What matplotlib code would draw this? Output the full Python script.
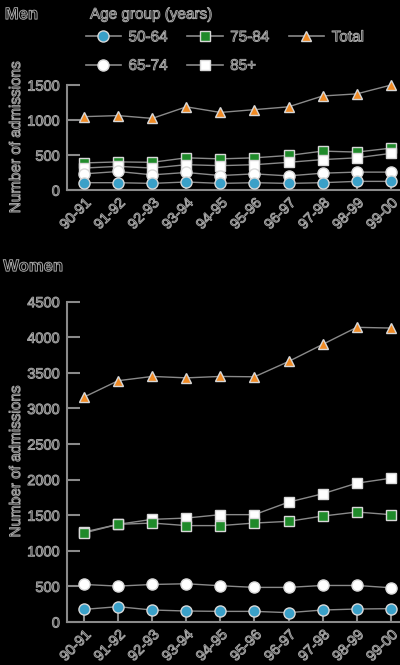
import matplotlib
matplotlib.use("Agg")
import matplotlib.pyplot as plt
import matplotlib.patheffects as pe
from matplotlib.lines import Line2D

years = ["90-91", "91-92", "92-93", "93-94", "94-95", "95-96", "96-97", "97-98", "98-99", "99-00"]

men_50_64 = [107, 107, 97, 117, 97, 107, 97, 107, 126, 126]
men_65_74 = [233, 267, 219, 253, 209, 233, 204, 243, 258, 258]
men_75_84 = [389, 404, 398, 462, 447, 462, 496, 558, 544, 600]
men_85 = [316, 340, 316, 364, 350, 364, 398, 437, 462, 525]
men_total = [1050, 1065, 1025, 1190, 1110, 1150, 1190, 1345, 1375, 1500]

women_50_64 = [177, 215, 168, 154, 149, 149, 131, 168, 182, 187]
women_65_74 = [527, 504, 527, 537, 509, 486, 486, 513, 513, 481]
women_75_84 = [1250, 1372, 1390, 1354, 1354, 1390, 1414, 1488, 1545, 1508]
women_85 = [1264, 1372, 1442, 1460, 1508, 1508, 1684, 1801, 1950, 2020]
women_total = [3160, 3390, 3450, 3430, 3450, 3445, 3660, 3900, 4140, 4130]

men_yticks = [0, 500, 1000, 1500]
women_yticks = [0, 500, 1000, 1500, 2000, 2500, 3000, 3500, 4000, 4500]

BG = "black"
LINE = "#8a8a8a"
EDGE = "#d8d8d8"
TXT = "#a6a6a6"
FONT = ["Liberation Sans", "DejaVu Sans"]

outline = [pe.Stroke(linewidth=0.7, foreground=TXT)]

plt.rcParams["font.family"] = FONT

fig = plt.figure(figsize=(4.0, 6.65), dpi=100, facecolor=BG)

styles = {
    "50-64": dict(marker="o", mfc="#3aa0c8", ms=8),
    "65-74": dict(marker="o", mfc="white", ms=8),
    "75-84": dict(marker="s", mfc="#1f8a2a", ms=7),
    "85+": dict(marker="s", mfc="white", ms=7),
    "Total": dict(marker="^", mfc="#f08a24", ms=7.5),
}


def txt(x, y, s, **kw):
    t = fig.text(x, y, s, color="black", **kw)
    t.set_path_effects(outline)
    return t


def draw(ax, series, yticks, ymax):
    ax.set_facecolor(BG)
    x = list(range(len(years)))
    for name, vals in series:
        st = styles[name]
        ax.plot(x, vals, color=LINE, lw=1.0, marker=st["marker"], ms=st["ms"],
                mfc=st["mfc"], mec=EDGE, mew=1.0, clip_on=False, zorder=3)
    ax.set_xlim(-0.5, 9.27)
    ax.set_ylim(0, ymax)
    ax.set_yticks(yticks)
    ax.set_xticks(x)
    ax.set_xticklabels(years, rotation=45, ha="right", rotation_mode="anchor")
    for s in ["top", "right"]:
        ax.spines[s].set_visible(False)
    for s in ["left", "bottom"]:
        ax.spines[s].set_color(LINE)
        ax.spines[s].set_linewidth(1.5)
    ax.tick_params(axis="y", direction="in", length=9, width=1.5, color=LINE,
                   labelsize=10.5, pad=5)
    ax.tick_params(axis="x", direction="in", length=7, width=1.5, color=LINE,
                   labelsize=10.5, pad=4)
    for lab in ax.get_xticklabels() + ax.get_yticklabels():
        lab.set_color("black")
        lab.set_path_effects(outline)
    ax.set_ylabel("Number of admissions", fontsize=11, color="black", labelpad=3)
    ax.yaxis.label.set_path_effects(outline)


ax1 = fig.add_axes([0.1675, 0.714, 0.8325, 0.158])
draw(ax1, [("Total", men_total), ("75-84", men_75_84), ("85+", men_85),
           ("65-74", men_65_74), ("50-64", men_50_64)], men_yticks, 1500)

ax2 = fig.add_axes([0.1675, 0.0647, 0.8325, 0.4816])
draw(ax2, [("Total", women_total), ("85+", women_85), ("75-84", women_75_84),
           ("65-74", women_65_74), ("50-64", women_50_64)], women_yticks, 4500)

txt(0.012, 0.978, "Men", fontsize=12, fontweight="bold", va="center")
txt(0.008, 0.599, "Women", fontsize=12, fontweight="bold", va="center")
txt(0.225, 0.978, "Age group (years)", fontsize=11, va="center")

handles = [Line2D([], [], color=LINE, lw=1.2, marker=styles[n]["marker"],
                  ms=styles[n]["ms"], mfc=styles[n]["mfc"], mec=EDGE, mew=1.0)
           for n in ["50-64", "65-74", "75-84", "85+", "Total"]]
leg = fig.legend(handles, ["50-64", "65-74", "75-84", "85+", "Total"], ncol=3,
                 loc="upper left", bbox_to_anchor=(0.18, 0.975), frameon=False,
                 fontsize=11, handlelength=2.3, handletextpad=0.5,
                 columnspacing=1.3, labelspacing=0.95)
for t in leg.get_texts():
    t.set_color("black")
    t.set_path_effects(outline)

fig.savefig("out.png", dpi=100, facecolor=BG)
